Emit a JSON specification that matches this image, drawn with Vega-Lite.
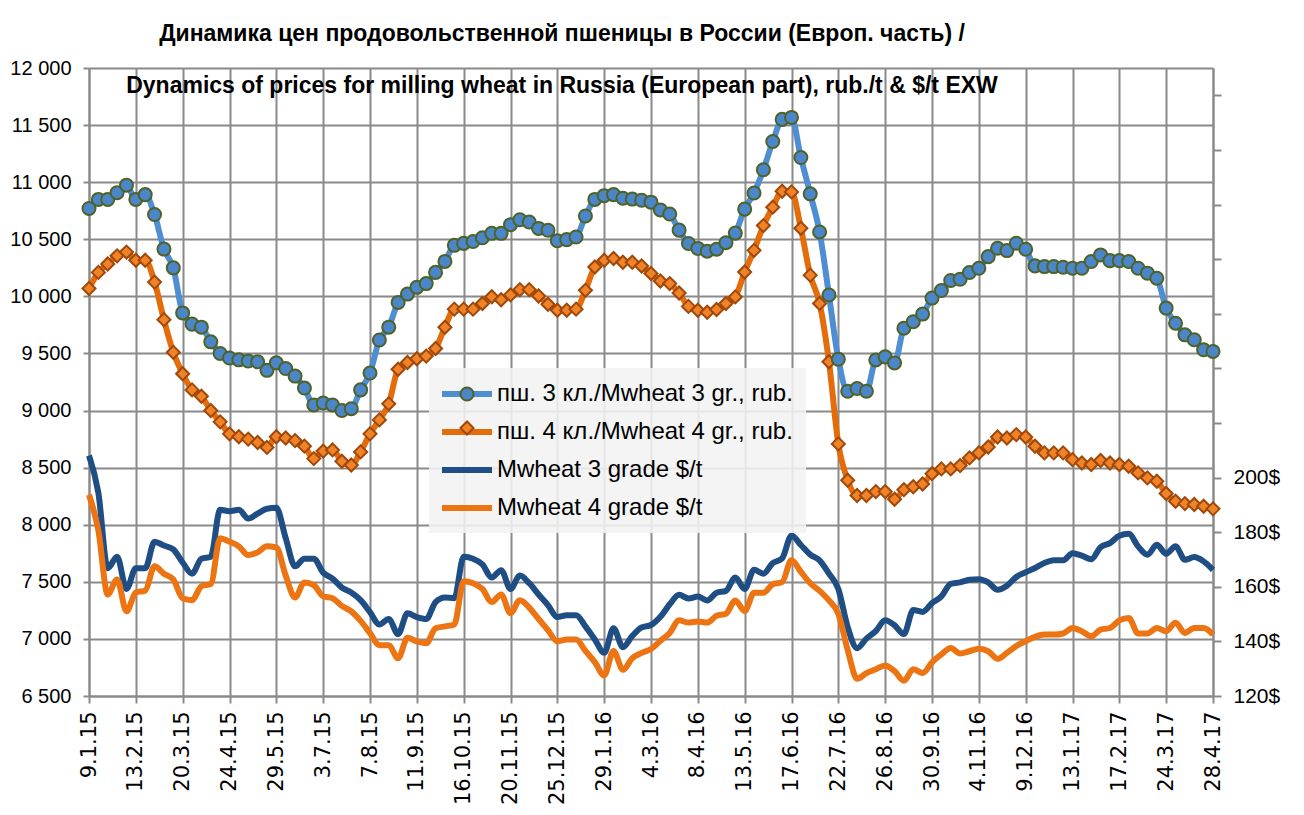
{
"$schema": "https://vega.github.io/schema/vega-lite/v6.json",
"width": 1124, "height": 628,
"autosize": "none",
"padding": {"left": 89, "top": 68, "right": 91, "bottom": 119},
"background": "white",
"config": {"view": {"stroke": null}, "font": "Liberation Sans"},
"title": {"text": ["Динамика цен продовольственной пшеницы в России (Европ. часть) /", "Dynamics of prices for milling wheat in Russia (European part), rub./t & $/t EXW"], "font": "Liberation Sans", "fontSize": 23, "fontWeight": "bold", "color": "#000000", "lineHeight": 52, "anchor": "middle", "frame": "group", "dx": -89, "baseline": "bottom", "offset": -63},
"data": {"values": [
{"d":"9.1.15","r3":10770,"r4":10069,"u3":208.1,"u4":193.7},
{"d":"16.1.15","r3":10849,"r4":10210,"u3":194.4,"u4":180.6},
{"d":"23.1.15","r3":10849,"r4":10283,"u3":166.8,"u4":157.2},
{"d":"30.1.15","r3":10908,"r4":10355,"u3":171,"u4":162.7},
{"d":"6.2.15","r3":10974,"r4":10388,"u3":159.2,"u4":151},
{"d":"13.2.15","r3":10849,"r4":10316,"u3":166.8,"u4":157.9},
{"d":"20.2.15","r3":10891,"r4":10316,"u3":166.8,"u4":158.6},
{"d":"27.2.15","r3":10717,"r4":10125,"u3":176.5,"u4":167.5},
{"d":"6.3.15","r3":10414,"r4":9796,"u3":175.1,"u4":164.8},
{"d":"13.3.15","r3":10250,"r4":9510,"u3":173.7,"u4":162.7},
{"d":"20.3.15","r3":9855,"r4":9322,"u3":168.9,"u4":155.8},
{"d":"27.3.15","r3":9757,"r4":9181,"u3":164.8,"u4":155.1},
{"d":"3.4.15","r3":9730,"r4":9125,"u3":170.3,"u4":160.2},
{"d":"10.4.15","r3":9602,"r4":9000,"u3":171,"u4":161},
{"d":"17.4.15","r3":9500,"r4":8901,"u3":188.2,"u4":177.8},
{"d":"24.4.15","r3":9460,"r4":8796,"u3":187.7,"u4":176.5},
{"d":"1.5.15","r3":9444,"r4":8770,"u3":188.2,"u4":174.8},
{"d":"8.5.15","r3":9434,"r4":8750,"u3":185,"u4":171.6},
{"d":"15.5.15","r3":9427,"r4":8720,"u3":186.8,"u4":172.6},
{"d":"22.5.15","r3":9352,"r4":8677,"u3":188.6,"u4":174.8},
{"d":"29.5.15","r3":9418,"r4":8770,"u3":188.9,"u4":174.4},
{"d":"5.6.15","r3":9368,"r4":8760,"u3":177.8,"u4":164.1},
{"d":"12.6.15","r3":9302,"r4":8737,"u3":167.5,"u4":156.1},
{"d":"19.6.15","r3":9197,"r4":8688,"u3":170.3,"u4":161.6},
{"d":"26.6.15","r3":9049,"r4":8579,"u3":170.3,"u4":160.6},
{"d":"3.7.15","r3":9066,"r4":8645,"u3":165.2,"u4":156.5},
{"d":"10.7.15","r3":9049,"r4":8655,"u3":163,"u4":155.8},
{"d":"17.7.15","r3":9000,"r4":8556,"u3":159.7,"u4":153},
{"d":"24.7.15","r3":9016,"r4":8523,"u3":157.9,"u4":151},
{"d":"31.7.15","r3":9181,"r4":8638,"u3":155.1,"u4":147.5},
{"d":"7.8.15","r3":9329,"r4":8796,"u3":150.7,"u4":143},
{"d":"14.8.15","r3":9618,"r4":8918,"u3":146.2,"u4":138.6},
{"d":"21.8.15","r3":9730,"r4":9059,"u3":148.2,"u4":138.6},
{"d":"28.8.15","r3":9947,"r4":9362,"u3":142.7,"u4":133.8},
{"d":"4.9.15","r3":10020,"r4":9421,"u3":150.3,"u4":141.3},
{"d":"11.9.15","r3":10079,"r4":9454,"u3":148.9,"u4":140},
{"d":"18.9.15","r3":10112,"r4":9477,"u3":148.2,"u4":139.3},
{"d":"25.9.15","r3":10210,"r4":9543,"u3":154.4,"u4":144.8},
{"d":"2.10.15","r3":10306,"r4":9730,"u3":156.1,"u4":145.5},
{"d":"9.10.15","r3":10447,"r4":9888,"u3":155.8,"u4":146.2},
{"d":"16.10.15","r3":10464,"r4":9888,"u3":171,"u4":162},
{"d":"23.10.15","r3":10480,"r4":9888,"u3":170.3,"u4":161.3},
{"d":"30.10.15","r3":10513,"r4":9937,"u3":168.2,"u4":159.2},
{"d":"6.11.15","r3":10552,"r4":9997,"u3":163.4,"u4":154.4},
{"d":"13.11.15","r3":10552,"r4":9970,"u3":166.1,"u4":157.2},
{"d":"20.11.15","r3":10628,"r4":10013,"u3":159.2,"u4":150.3},
{"d":"27.11.15","r3":10671,"r4":10059,"u3":164.1,"u4":155.1},
{"d":"4.12.15","r3":10651,"r4":10059,"u3":161.3,"u4":152.4},
{"d":"11.12.15","r3":10595,"r4":10003,"u3":157.2,"u4":148.2},
{"d":"18.12.15","r3":10579,"r4":9931,"u3":153.3,"u4":144.1},
{"d":"25.12.15","r3":10487,"r4":9878,"u3":148.9,"u4":140},
{"d":"1.1.16","r3":10497,"r4":9878,"u3":149.6,"u4":140.7},
{"d":"8.1.16","r3":10520,"r4":9888,"u3":149.6,"u4":140.7},
{"d":"15.1.16","r3":10704,"r4":10053,"u3":145.5,"u4":136.5},
{"d":"22.1.16","r3":10849,"r4":10257,"u3":140.7,"u4":132.4},
{"d":"29.1.16","r3":10882,"r4":10316,"u3":135.8,"u4":127.6},
{"d":"5.2.16","r3":10891,"r4":10332,"u3":144.8,"u4":136.5},
{"d":"12.2.16","r3":10859,"r4":10299,"u3":137.9,"u4":129.6},
{"d":"19.2.16","r3":10852,"r4":10299,"u3":142,"u4":133.8},
{"d":"26.2.16","r3":10842,"r4":10266,"u3":145.1,"u4":135.8},
{"d":"4.3.16","r3":10825,"r4":10200,"u3":146,"u4":137.2},
{"d":"11.3.16","r3":10757,"r4":10135,"u3":149,"u4":140.2},
{"d":"18.3.16","r3":10721,"r4":10112,"u3":153.6,"u4":143.1},
{"d":"25.3.16","r3":10580,"r4":10029,"u3":157.1,"u4":147.7},
{"d":"1.4.16","r3":10463,"r4":9912,"u3":155.7,"u4":146.9},
{"d":"8.4.16","r3":10420,"r4":9878,"u3":156.4,"u4":147.3},
{"d":"15.4.16","r3":10396,"r4":9861,"u3":155,"u4":146.9},
{"d":"22.4.16","r3":10413,"r4":9885,"u3":157.8,"u4":149.4},
{"d":"29.4.16","r3":10470,"r4":9938,"u3":158.5,"u4":150.1},
{"d":"6.5.16","r3":10554,"r4":9995,"u3":163.4,"u4":155},
{"d":"13.5.16","r3":10764,"r4":10213,"u3":159.2,"u4":151.1},
{"d":"20.5.16","r3":10905,"r4":10403,"u3":166.2,"u4":157.8},
{"d":"27.5.16","r3":11109,"r4":10620,"u3":164.8,"u4":157.8},
{"d":"3.6.16","r3":11356,"r4":10781,"u3":168.7,"u4":160.9},
{"d":"10.6.16","r3":11550,"r4":10921,"u3":170.4,"u4":161.7},
{"d":"17.6.16","r3":11567,"r4":10915,"u3":178.8,"u4":169.7},
{"d":"24.6.16","r3":11216,"r4":10597,"u3":175.3,"u4":165.5},
{"d":"1.7.16","r3":10898,"r4":10186,"u3":171.8,"u4":161.3},
{"d":"8.7.16","r3":10564,"r4":9938,"u3":169.7,"u4":158.5},
{"d":"15.7.16","r3":10012,"r4":9427,"u3":164.8,"u4":155},
{"d":"22.7.16","r3":9450,"r4":8708,"u3":159.2,"u4":150.1},
{"d":"29.7.16","r3":9169,"r4":8390,"u3":145.2,"u4":136.8},
{"d":"5.8.16","r3":9193,"r4":8256,"u3":137.5,"u4":126.3},
{"d":"12.8.16","r3":9169,"r4":8256,"u3":141,"u4":128.4},
{"d":"19.8.16","r3":9443,"r4":8290,"u3":143.8,"u4":129.8},
{"d":"26.8.16","r3":9470,"r4":8290,"u3":147.7,"u4":131.2},
{"d":"2.9.16","r3":9417,"r4":8223,"u3":145.9,"u4":129.1},
{"d":"9.9.16","r3":9721,"r4":8307,"u3":142.7,"u4":125.6},
{"d":"16.9.16","r3":9778,"r4":8333,"u3":151.5,"u4":129.8},
{"d":"23.9.16","r3":9845,"r4":8357,"u3":150.8,"u4":128.4},
{"d":"30.9.16","r3":9985,"r4":8447,"u3":154,"u4":132.3},
{"d":"7.10.16","r3":10051,"r4":8489,"u3":156.5,"u4":135.2},
{"d":"14.10.16","r3":10139,"r4":8489,"u3":161.1,"u4":137.6},
{"d":"21.10.16","r3":10150,"r4":8518,"u3":161.6,"u4":135.6},
{"d":"28.10.16","r3":10209,"r4":8585,"u3":162.6,"u4":136.4},
{"d":"4.11.16","r3":10246,"r4":8629,"u3":162.8,"u4":137.3},
{"d":"11.11.16","r3":10348,"r4":8681,"u3":161.6,"u4":136.4},
{"d":"18.11.16","r3":10421,"r4":8768,"u3":158.9,"u4":133.6},
{"d":"25.11.16","r3":10401,"r4":8760,"u3":160.4,"u4":135.8},
{"d":"2.12.16","r3":10465,"r4":8789,"u3":163.6,"u4":138.3},
{"d":"9.12.16","r3":10413,"r4":8768,"u3":165.3,"u4":140.1},
{"d":"16.12.16","r3":10267,"r4":8687,"u3":166.9,"u4":141.7},
{"d":"23.12.16","r3":10261,"r4":8629,"u3":168.7,"u4":142.5},
{"d":"30.12.16","r3":10261,"r4":8629,"u3":169.7,"u4":142.5},
{"d":"6.1.17","r3":10255,"r4":8629,"u3":169.7,"u4":142.9},
{"d":"13.1.17","r3":10246,"r4":8570,"u3":172.3,"u4":144.9},
{"d":"20.1.17","r3":10246,"r4":8541,"u3":171.4,"u4":143.7},
{"d":"27.1.17","r3":10305,"r4":8527,"u3":170.1,"u4":141.9},
{"d":"3.2.17","r3":10363,"r4":8562,"u3":174.5,"u4":144.3},
{"d":"10.2.17","r3":10313,"r4":8541,"u3":176,"u4":144.9},
{"d":"17.2.17","r3":10313,"r4":8527,"u3":178.7,"u4":147.7},
{"d":"24.2.17","r3":10305,"r4":8512,"u3":179.4,"u4":148.6},
{"d":"3.3.17","r3":10246,"r4":8454,"u3":174.8,"u4":142.9},
{"d":"10.3.17","r3":10203,"r4":8410,"u3":171.7,"u4":142.9},
{"d":"17.3.17","r3":10159,"r4":8381,"u3":175.4,"u4":144.9},
{"d":"24.3.17","r3":9897,"r4":8273,"u3":172.1,"u4":143.7},
{"d":"31.3.17","r3":9765,"r4":8206,"u3":174.8,"u4":146.8},
{"d":"7.4.17","r3":9663,"r4":8185,"u3":169.9,"u4":143.1},
{"d":"14.4.17","r3":9620,"r4":8177,"u3":170.9,"u4":144.9},
{"d":"21.4.17","r3":9532,"r4":8162,"u3":169.3,"u4":144.9},
{"d":"28.4.17","r3":9518,"r4":8139,"u3":166.2,"u4":142.5}
]},
"encoding": {
  "x": {"field": "d", "type": "ordinal", "sort": null, "scale": {"type": "point", "padding": 0},
    "axis": {"title": null, "values": ["9.1.15","13.2.15","20.3.15","24.4.15","29.5.15","3.7.15","7.8.15","11.9.15","16.10.15","20.11.15","25.12.15","29.1.16","4.3.16","8.4.16","13.5.16","17.6.16","22.7.16","26.8.16","30.9.16","4.11.16","9.12.16","13.1.17","17.2.17","24.3.17","28.4.17"],
      "labelAngle": -90, "labelFont": "DejaVu Sans", "labelFontSize": 21, "labelColor": "#000000", "labelPadding": 8, "labelOverlap": false,
      "tickSize": 7, "tickColor": "#8a8a8a", "tickWidth": 2, "grid": true, "gridColor": "#8a8a8a", "gridWidth": 2, "gridOpacity": 1,
      "domain": true, "domainColor": "#8a8a8a", "domainWidth": 2}}
},
"layer": [
  {
    "transform": [{"fold": ["r3", "r4"], "as": ["k", "v"]}],
    "encoding": {
      "y": {"field": "v", "type": "quantitative", "scale": {"domain": [6500, 12000], "nice": false, "zero": false},
        "axis": {"orient": "left", "title": null, "values": [6500,7000,7500,8000,8500,9000,9500,10000,10500,11000,11500,12000],
          "labelExpr": "replace(format(datum.value, ',d'), ',', ' ')", "labelFont": "Liberation Sans", "labelFontSize": 20, "labelColor": "#000000", "labelPadding": 12,
          "tickSize": 6, "tickColor": "#8a8a8a", "tickWidth": 2, "grid": true, "gridColor": "#8a8a8a", "gridWidth": 2, "gridOpacity": 1,
          "domain": true, "domainColor": "#8a8a8a", "domainWidth": 2}}
    },
    "layer": [
      {"mark": {"type": "line", "strokeWidth": 6, "interpolate": "monotone"},
       "encoding": {"color": {"field": "k", "type": "nominal", "scale": {"domain": ["r3","r4","u3","u4"], "range": ["#4f8ed3","#e46c0a","#1f4e85","#ec7412"]},
         "legend": {"orient": "none", "legendX": 340, "legendY": 300, "title": null, "symbolType": "M-1.3,0H3.7", "symbolSize": 400, "symbolStrokeWidth": 6,
           "labelFont": "Liberation Sans", "labelFontSize": 24, "labelColor": "#000000", "labelOffset": 29, "labelLimit": 0, "rowPadding": 13, "padding": 13,
           "fillColor": "rgba(242,242,242,0.88)", "zindex": 1,
           "labelExpr": "datum.label == 'r3' ? 'пш. 3 кл./Mwheat 3 gr., rub.' : datum.label == 'r4' ? 'пш. 4 кл./Mwheat 4 gr., rub.' : datum.label == 'u3' ? 'Mwheat 3 grade $/t' : 'Mwheat 4 grade $/t'"}}}},
      {"mark": {"type": "point", "size": 170, "strokeWidth": 2, "opacity": 1, "fillOpacity": 1},
       "encoding": {
         "shape": {"field": "k", "type": "nominal", "scale": {"domain": ["r3","r4"], "range": ["circle","diamond"]},
           "legend": {"orient": "none", "legendX": 357, "legendY": 305, "title": null, "labelExpr": "''", "labelFontSize": 1, "rowPadding": 12, "padding": 13, "symbolSize": 170, "symbolStrokeWidth": 2, "symbolOpacity": 1, "zindex": 2}},
         "fill": {"field": "k", "type": "nominal", "scale": {"domain": ["r3","r4"], "range": ["#4a86c8","#f08228"]},
           "legend": {"orient": "none", "legendX": 357, "legendY": 305, "title": null, "labelExpr": "''", "labelFontSize": 1, "rowPadding": 12, "padding": 13, "symbolSize": 170, "symbolStrokeWidth": 2, "symbolOpacity": 1, "zindex": 2}},
         "stroke": {"field": "k", "type": "nominal", "scale": {"domain": ["r3","r4"], "range": ["#4f6228","#a0480a"]},
           "legend": {"orient": "none", "legendX": 357, "legendY": 305, "title": null, "labelExpr": "''", "labelFontSize": 1, "rowPadding": 12, "padding": 13, "symbolSize": 170, "symbolStrokeWidth": 2, "symbolOpacity": 1, "zindex": 2}}
       }}
    ]
  },
  {
    "transform": [{"fold": ["u3", "u4"], "as": ["k", "v"]}],
    "mark": {"type": "line", "strokeWidth": 6, "interpolate": "monotone"},
    "encoding": {
      "y": {"field": "v", "type": "quantitative", "scale": {"domain": [120, 350], "nice": false, "zero": false},
        "axis": {"orient": "right", "title": null, "values": [120,140,160,180,200,220,240,260,280,300,320,340],
          "labelExpr": "datum.value <= 200 ? datum.value + '$' : ''", "labelFont": "Liberation Sans", "labelFontSize": 21, "labelColor": "#000000", "labelPadding": 12,
          "tickSize": 8, "tickColor": "#8a8a8a", "tickWidth": 2, "grid": false,
          "domain": true, "domainColor": "#8a8a8a", "domainWidth": 2}},
      "color": {"field": "k", "type": "nominal", "scale": {"domain": ["r3","r4","u3","u4"], "range": ["#4f8ed3","#e46c0a","#1f4e85","#ec7412"]},
         "legend": {"orient": "none", "legendX": 340, "legendY": 300, "title": null, "symbolType": "M-1.3,0H3.7", "symbolSize": 400, "symbolStrokeWidth": 6,
           "labelFont": "Liberation Sans", "labelFontSize": 24, "labelColor": "#000000", "labelOffset": 29, "labelLimit": 0, "rowPadding": 13, "padding": 13,
           "fillColor": "rgba(242,242,242,0.88)", "zindex": 1,
           "labelExpr": "datum.label == 'r3' ? 'пш. 3 кл./Mwheat 3 gr., rub.' : datum.label == 'r4' ? 'пш. 4 кл./Mwheat 4 gr., rub.' : datum.label == 'u3' ? 'Mwheat 3 grade $/t' : 'Mwheat 4 grade $/t'"}}
    }
  }
],
"resolve": {"scale": {"y": "independent"}}
}
